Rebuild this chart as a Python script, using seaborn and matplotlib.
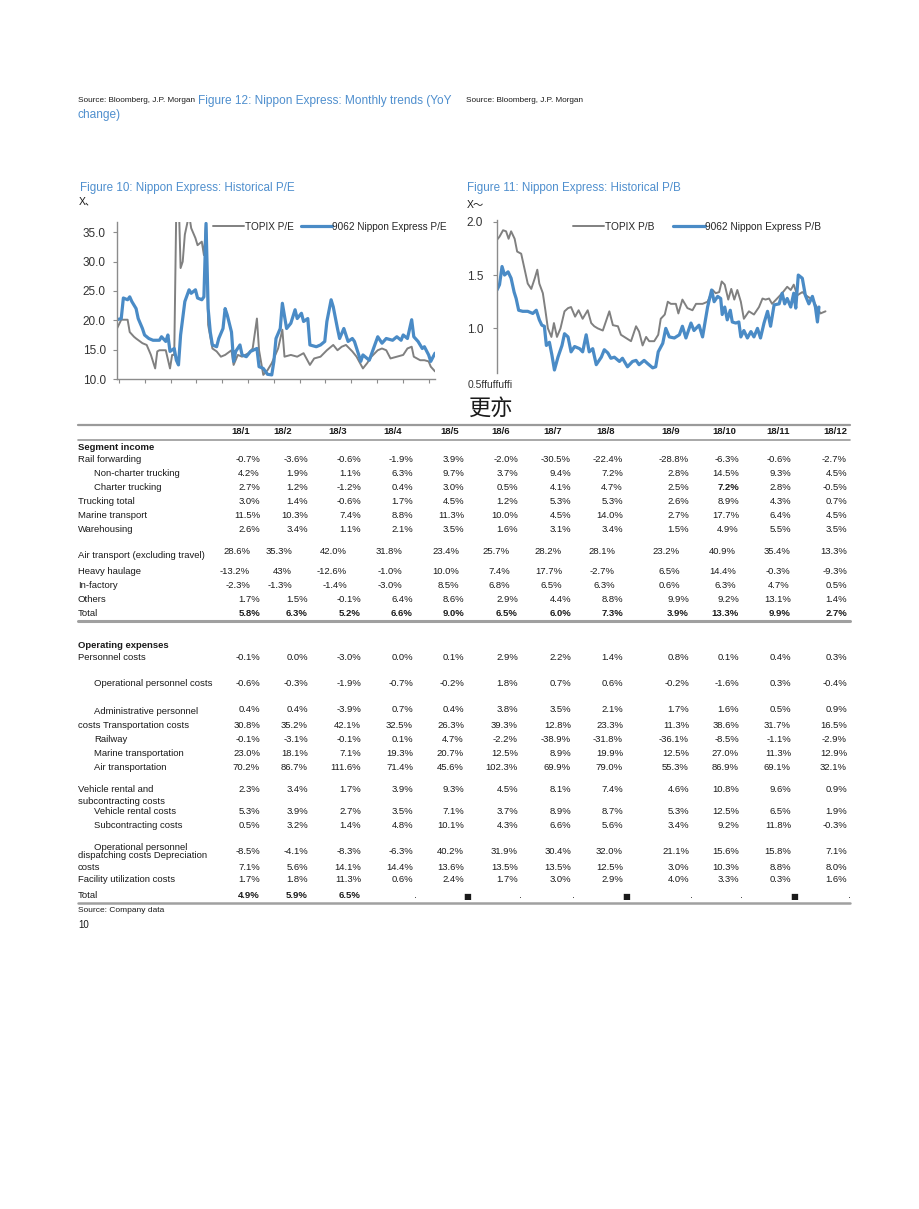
import numpy as np
import pandas as pd
import matplotlib
matplotlib.use('Agg')
import matplotlib.pyplot as plt
import seaborn as sns

# ---------------- data: historical P/E (month index) ----------------
pe_topix_m = [0, 2, 5, 6, 8, 9, 12, 14, 16, 18, 19, 20, 23, 25, 26, 27, 28, 29, 30, 31,
              32, 34, 35, 37, 38, 40, 41, 42, 43, 45, 47, 49, 51, 54, 55, 57, 59, 62, 64, 66,
              67, 69, 71, 73, 76, 78, 79, 82, 85, 88, 91, 93, 96, 99, 102, 104, 106, 108, 111, 113,
              116, 118, 120, 123, 125, 127, 129, 132, 135, 137, 139, 140, 143, 145, 147, 148, 150]
pe_topix = [18.6, 20.1, 20.1, 18.0, 17.2, 16.9, 16.1, 15.8, 14.1, 11.8, 14.7, 14.9, 14.9, 11.8, 14.1, 14.1, 40.0, 42.0, 28.9, 30.0,
            34.6, 38.0, 35.7, 34.0, 32.8, 33.4, 31.1, 36.5, 19.2, 15.2, 14.7, 13.8, 14.1, 14.9, 12.4, 14.1, 13.8, 14.4, 15.2, 20.3,
            14.9, 10.7, 11.5, 12.7, 15.2, 18.4, 13.8, 14.1, 13.8, 14.4, 12.4, 13.5, 13.8, 14.9, 15.8, 14.9, 15.5, 15.8, 14.7, 13.8,
            11.8, 12.7, 13.8, 14.9, 15.2, 14.9, 13.5, 13.8, 14.1, 15.2, 15.5, 13.8, 13.2, 13.2, 13.0, 12.1, 11.3]

pe_nx_m = [0, 2, 3, 5, 6, 7, 9, 10, 12, 13, 15, 17, 20, 21, 23, 24, 25, 27, 28, 29,
           30, 32, 34, 35, 37, 38, 40, 41, 42, 43, 44, 45, 47, 48, 50, 51, 52, 54, 55, 56,
           58, 59, 61, 63, 66, 67, 69, 71, 73, 74, 75, 77, 78, 80, 82, 84, 85, 87, 88, 90,
           91, 94, 96, 98, 99, 101, 102, 104, 105, 107, 109, 111, 112, 115, 116, 119, 121, 123, 125, 127,
           130, 132, 134, 135, 137, 139, 140, 142, 144, 145, 147, 148, 150]
pe_nx = [20.1, 20.3, 23.8, 23.5, 24.0, 23.2, 22.0, 20.3, 18.6, 17.5, 16.9, 16.6, 16.6, 17.2, 16.4, 17.5, 14.7, 15.2, 13.2, 12.4,
         17.5, 23.2, 25.2, 24.6, 25.2, 23.8, 23.5, 24.0, 36.5, 22.0, 18.0, 15.8, 15.5, 16.9, 18.6, 22.0, 20.9, 18.0, 13.0, 14.7,
         15.8, 14.1, 13.8, 14.7, 15.2, 12.1, 11.8, 10.8, 10.7, 13.0, 16.9, 18.6, 22.9, 18.6, 19.5, 21.8, 20.3, 21.2, 19.8, 20.3,
         15.8, 15.5, 15.8, 16.4, 19.8, 23.5, 22.3, 18.6, 16.9, 18.6, 16.4, 16.9, 16.4, 13.0, 14.1, 13.2, 15.2, 17.2, 16.1, 16.9,
         16.6, 17.2, 16.6, 17.5, 16.9, 20.1, 17.2, 16.4, 15.2, 15.5, 14.1, 13.0, 14.4]

# ---------------- data: historical P/B (week index) ----------------
pb_topix_w = [0, 5, 12, 18, 23, 28, 35, 40, 48, 55, 61, 68, 75, 80, 84, 91, 96, 101, 108, 113,
              119, 126, 134, 141, 147, 155, 162, 170, 180, 187, 193, 200, 210, 223, 230, 240, 246, 256, 266, 276,
              282, 289, 296, 302, 312, 320, 325, 333, 339, 345, 355, 360, 368, 378, 388, 395, 408, 418, 428, 434,
              441, 446, 452, 459, 465, 471, 477, 484, 490, 500, 510, 520, 527, 533, 540, 546, 556, 566, 576, 583,
              589, 596, 606, 616, 626, 636, 642, 652]
pb_topix = [1.83, 1.86, 1.92, 1.91, 1.84, 1.91, 1.84, 1.72, 1.70, 1.55, 1.42, 1.37, 1.47, 1.55, 1.42, 1.33, 1.17, 1.00, 0.92, 1.05,
            0.92, 1.00, 1.16, 1.19, 1.20, 1.11, 1.17, 1.09, 1.17, 1.05, 1.02, 1.00, 0.98, 1.16, 1.03, 1.02, 0.94, 0.91, 0.88, 1.02,
            0.97, 0.84, 0.92, 0.88, 0.88, 0.94, 1.09, 1.13, 1.25, 1.23, 1.23, 1.14, 1.27, 1.19, 1.17, 1.23, 1.23, 1.25, 1.36, 1.33,
            1.34, 1.44, 1.41, 1.27, 1.37, 1.27, 1.36, 1.25, 1.09, 1.16, 1.13, 1.20, 1.28, 1.27, 1.28, 1.23, 1.28, 1.33, 1.39, 1.36,
            1.41, 1.31, 1.34, 1.30, 1.27, 1.19, 1.14, 1.16]

pb_nx_w = [0, 5, 10, 15, 22, 28, 34, 38, 43, 51, 61, 71, 78, 84, 89, 94, 98, 104, 109, 114,
           121, 129, 134, 141, 147, 154, 164, 170, 177, 183, 190, 197, 207, 213, 220, 226, 233, 243, 249, 259,
           269, 276, 282, 292, 299, 309, 315, 320, 329, 335, 342, 352, 362, 368, 375, 385, 391, 401, 408, 418,
           426, 431, 438, 444, 447, 452, 457, 463, 467, 474, 480, 484, 490, 497, 504, 510, 517, 523, 530, 537,
           543, 550, 560, 566, 571, 576, 583, 589, 593, 598, 606, 612, 619, 626, 632, 636, 639]
pb_nx = [1.36, 1.41, 1.58, 1.50, 1.53, 1.47, 1.34, 1.28, 1.17, 1.16, 1.16, 1.14, 1.17, 1.08, 1.03, 1.02, 0.84, 0.87, 0.75, 0.61,
         0.73, 0.84, 0.95, 0.92, 0.78, 0.83, 0.81, 0.78, 0.94, 0.78, 0.81, 0.66, 0.73, 0.80, 0.77, 0.72, 0.73, 0.69, 0.72, 0.64,
         0.69, 0.70, 0.66, 0.70, 0.67, 0.63, 0.64, 0.78, 0.86, 1.00, 0.92, 0.91, 0.94, 1.02, 0.91, 1.05, 0.98, 1.03, 0.92, 1.20,
         1.36, 1.25, 1.30, 1.28, 1.13, 1.20, 1.08, 1.17, 1.06, 1.05, 1.06, 0.92, 0.98, 0.91, 0.97, 0.92, 1.00, 0.91, 1.05, 1.16,
         1.02, 1.22, 1.23, 1.33, 1.23, 1.28, 1.20, 1.33, 1.19, 1.50, 1.47, 1.31, 1.23, 1.30, 1.20, 1.06, 1.20]

# ---------------- data: monthly YoY table ----------------
months = ["18/1", "18/2", "18/3", "18/4", "18/5", "18/6", "18/7", "18/8", "18/9", "18/10", "18/11", "18/12"]

seg_labels = ["Rail forwarding", "Non-charter trucking", "Charter trucking", "Trucking total",
              "Marine transport", "Warehousing", "Air transport (excluding travel)", "Heavy haulage",
              "In-factory", "Others", "Total"]
seg_values = [
    ["-0.7%", "-3.6%", "-0.6%", "-1.9%", "3.9%", "-2.0%", "-30.5%", "-22.4%", "-28.8%", "-6.3%", "-0.6%", "-2.7%"],
    ["4.2%", "1.9%", "1.1%", "6.3%", "9.7%", "3.7%", "9.4%", "7.2%", "2.8%", "14.5%", "9.3%", "4.5%"],
    ["2.7%", "1.2%", "-1.2%", "0.4%", "3.0%", "0.5%", "4.1%", "4.7%", "2.5%", "7.2%", "2.8%", "-0.5%"],
    ["3.0%", "1.4%", "-0.6%", "1.7%", "4.5%", "1.2%", "5.3%", "5.3%", "2.6%", "8.9%", "4.3%", "0.7%"],
    ["11.5%", "10.3%", "7.4%", "8.8%", "11.3%", "10.0%", "4.5%", "14.0%", "2.7%", "17.7%", "6.4%", "4.5%"],
    ["2.6%", "3.4%", "1.1%", "2.1%", "3.5%", "1.6%", "3.1%", "3.4%", "1.5%", "4.9%", "5.5%", "3.5%"],
    ["28.6%", "35.3%", "42.0%", "31.8%", "23.4%", "25.7%", "28.2%", "28.1%", "23.2%", "40.9%", "35.4%", "13.3%"],
    ["-13.2%", "43%", "-12.6%", "-1.0%", "10.0%", "7.4%", "17.7%", "-2.7%", "6.5%", "14.4%", "-0.3%", "-9.3%"],
    ["-2.3%", "-1.3%", "-1.4%", "-3.0%", "8.5%", "6.8%", "6.5%", "6.3%", "0.6%", "6.3%", "4.7%", "0.5%"],
    ["1.7%", "1.5%", "-0.1%", "6.4%", "8.6%", "2.9%", "4.4%", "8.8%", "9.9%", "9.2%", "13.1%", "1.4%"],
    ["5.8%", "6.3%", "5.2%", "6.6%", "9.0%", "6.5%", "6.0%", "7.3%", "3.9%", "13.3%", "9.9%", "2.7%"],
]

opex_labels = ["Personnel costs", "Operational personnel costs", "Administrative personnel",
               "costs Transportation costs", "Railway", "Marine transportation", "Air transportation",
               "Vehicle rental and", "Vehicle rental costs", "Subcontracting costs",
               "Operational personnel", "costs", "Facility utilization costs", "Total"]
opex_values = [
    ["-0.1%", "0.0%", "-3.0%", "0.0%", "0.1%", "2.9%", "2.2%", "1.4%", "0.8%", "0.1%", "0.4%", "0.3%"],
    ["-0.6%", "-0.3%", "-1.9%", "-0.7%", "-0.2%", "1.8%", "0.7%", "0.6%", "-0.2%", "-1.6%", "0.3%", "-0.4%"],
    ["0.4%", "0.4%", "-3.9%", "0.7%", "0.4%", "3.8%", "3.5%", "2.1%", "1.7%", "1.6%", "0.5%", "0.9%"],
    ["30.8%", "35.2%", "42.1%", "32.5%", "26.3%", "39.3%", "12.8%", "23.3%", "11.3%", "38.6%", "31.7%", "16.5%"],
    ["-0.1%", "-3.1%", "-0.1%", "0.1%", "4.7%", "-2.2%", "-38.9%", "-31.8%", "-36.1%", "-8.5%", "-1.1%", "-2.9%"],
    ["23.0%", "18.1%", "7.1%", "19.3%", "20.7%", "12.5%", "8.9%", "19.9%", "12.5%", "27.0%", "11.3%", "12.9%"],
    ["70.2%", "86.7%", "111.6%", "71.4%", "45.6%", "102.3%", "69.9%", "79.0%", "55.3%", "86.9%", "69.1%", "32.1%"],
    ["2.3%", "3.4%", "1.7%", "3.9%", "9.3%", "4.5%", "8.1%", "7.4%", "4.6%", "10.8%", "9.6%", "0.9%"],
    ["5.3%", "3.9%", "2.7%", "3.5%", "7.1%", "3.7%", "8.9%", "8.7%", "5.3%", "12.5%", "6.5%", "1.9%"],
    ["0.5%", "3.2%", "1.4%", "4.8%", "10.1%", "4.3%", "6.6%", "5.6%", "3.4%", "9.2%", "11.8%", "-0.3%"],
    ["-8.5%", "-4.1%", "-8.3%", "-6.3%", "40.2%", "31.9%", "30.4%", "32.0%", "21.1%", "15.6%", "15.8%", "7.1%"],
    ["7.1%", "5.6%", "14.1%", "14.4%", "13.6%", "13.5%", "13.5%", "12.5%", "3.0%", "10.3%", "8.8%", "8.0%"],
    ["1.7%", "1.8%", "11.3%", "0.6%", "2.4%", "1.7%", "3.0%", "2.9%", "4.0%", "3.3%", "0.3%", "1.6%"],
    ["4.9%", "5.9%", "6.5%", ".", "\u25a0", ".", ".", "\u25a0", ".", ".", "\u25a0", "."],
]

# ---------------- layout (pixels) ----------------
W, H = 920, 1209
BLUE_T = '#4F8FCE'
BLUE_L = '#4A8BC6'
GRAY_L = '#808080'
TXT = '#1a1a1a'

sns.set_theme(style='white')
plt.rcParams['font.family'] = ['Liberation Sans', 'Noto Sans CJK SC', 'DejaVu Sans']
TF = ['Liberation Sans', 'DejaVu Sans']


def box(x0, y0, x1, y1):
    return [x0 / W, 1 - y1 / H, (x1 - x0) / W, (y1 - y0) / H]


fig = plt.figure(figsize=(W / 100, H / 100), dpi=100)
fig.patch.set_facecolor('white')

bg = fig.add_axes([0, 0, 1, 1])
bg.set_xlim(0, W)
bg.set_ylim(H, 0)
bg.axis('off')

# header texts
bg.text(78, 101, "Source: Bloomberg, J.P. Morgan", fontsize=5.9, family=TF, color=TXT, va='center')
bg.text(198, 101, "Figure 12: Nippon Express: Monthly trends (YoY", fontsize=8.6, color=BLUE_T, va='center')
bg.text(78, 115, "change)", fontsize=8.6, color=BLUE_T, va='center')
bg.text(466, 101, "Source: Bloomberg, J.P. Morgan", fontsize=5.9, family=TF, color=TXT, va='center')

bg.text(80, 188, "Figure 10: Nippon Express: Historical P/E", fontsize=8.4, color=BLUE_T, va='center')
bg.text(79, 201, "X\u3001", fontsize=7.5, color=TXT, va='center')
bg.text(467, 188, "Figure 11: Nippon Express: Historical P/B", fontsize=8.4, color=BLUE_T, va='center')
bg.text(467, 205, "X\u301c", fontsize=7.5, color=TXT, va='center')
bg.text(468, 385, "0.5ffuffuffi", fontsize=7.5, color='#333333', va='center')

# ---------------- P/E chart ----------------
ax1 = fig.add_axes(box(117, 221.7, 435, 379))
sns.lineplot(x=pe_topix_m, y=pe_topix, ax=ax1, color=GRAY_L, linewidth=1.4, label='TOPIX P/E')
sns.lineplot(x=pe_nx_m, y=pe_nx, ax=ax1, color=BLUE_L, linewidth=2.3, label='9062 Nippon Express P/E')
ax1.set_xlim(0, 150)
ax1.set_ylim(10, 36.8)
ax1.set_yticks([10, 15, 20, 25, 30, 35])
ax1.set_yticklabels([f"{v:.1f}" for v in [10, 15, 20, 25, 30, 35]])
ax1.set_xticks(np.linspace(1, 147, 13))
ax1.set_xticklabels([])

# ---------------- P/B chart ----------------
ax2 = fig.add_axes(box(497, 220, 827, 373.3))
sns.lineplot(x=pb_topix_w, y=pb_topix, ax=ax2, color=GRAY_L, linewidth=1.4, label='TOPIX P/B')
sns.lineplot(x=pb_nx_w, y=pb_nx, ax=ax2, color=BLUE_L, linewidth=2.3, label='9062 Nippon Express P/B')
ax2.set_xlim(0, 655)
ax2.set_ylim(0.579, 2.016)
ax2.set_yticks([1.0, 1.5, 2.0])
ax2.set_yticklabels(["1.0", "1.5", "2.0"])
ax2.set_xticks([])

for ax in (ax1, ax2):
    ax.set_facecolor('none')
    ax.set_xlabel('')
    ax.set_ylabel('')
    for s in ('top', 'right'):
        ax.spines[s].set_visible(False)
    for s in ('left', 'bottom'):
        ax.spines[s].set_color('#8c8c8c')
        ax.spines[s].set_linewidth(1.0)
    ax.tick_params(axis='y', length=3, width=0.8, color='#8c8c8c', labelsize=8.5,
                   labelcolor='#333333', pad=5, left=True)
    ax.tick_params(axis='x', length=3, width=0.8, color='#8c8c8c', bottom=True, direction='out')

ax2.spines['bottom'].set_visible(False)
ax2.tick_params(axis='y', pad=7)

ax1.legend(loc='center right', bbox_to_anchor=(1.05, 0.968), ncol=2, frameon=False,
           handlelength=3.1, handletextpad=0.05, columnspacing=0.7, fontsize=7.2, borderaxespad=0)
ax2.legend(loc='center right', bbox_to_anchor=(0.995, 0.956), ncol=2, frameon=False,
           handlelength=3.1, handletextpad=0.05, columnspacing=1.9, fontsize=7.3, borderaxespad=0)

# Chinese heading
bg.text(491, 408, "\u66f4\u4ea6", fontsize=16, family=['Noto Sans CJK SC'], color=TXT,
        ha='center', va='center', fontweight='light')

# ---------------- table ----------------
col_d = [260, 308, 361, 413, 464, 518, 571, 623, 689, 739, 791, 847]
col_h = [250, 292, 347, 402, 459, 510, 562, 615, 680, 736, 790, 847]
FS = 6.8
LX, IX = 78, 94

bg.plot([78, 850], [425, 425], color='#9a9a9a', lw=1.6)
bg.plot([78, 850], [440, 440], color='#9a9a9a', lw=1.2)
bg.plot([78, 850], [621, 621], color='#a0a0a0', lw=2.2)
bg.plot([78, 850], [903, 903], color='#a0a0a0', lw=1.8)

for x, m in zip(col_h, months):
    bg.text(x, 432, m, fontsize=FS, family=TF, fontweight='bold', color=TXT, ha='right', va='center')

bg.text(LX, 447, "Segment income", fontsize=FS, family=TF, fontweight='bold', color=TXT, va='center')
bg.text(LX, 645, "Operating expenses", fontsize=FS, family=TF, fontweight='bold', color=TXT, va='center')

# (label y, value y, indent, alignment)
seg_rows = [(460, 460, 0, 'd'), (473, 473, 1, 'd'), (487, 487, 1, 'd'), (501, 501, 0, 'd'),
            (515, 515, 0, 'd'), (530, 530, 0, 'd'), (555, 551, 0, 'h'), (572, 572, 0, 'h'),
            (585, 585, 0, 'h'), (599, 599, 0, 'd'), (613, 613, 0, 'd')]
opex_rows = [(658, 658, 0, 'd'), (684, 684, 1, 'd'), (712, 709, 1, 'd'), (726, 726, 0, 'd'),
             (740, 740, 1, 'd'), (754, 754, 1, 'd'), (768, 768, 1, 'd'), (790, 790, 0, 'd'),
             (812, 812, 1, 'd'), (825, 825, 1, 'd'), (847, 851, 1, 'd'), (867, 867, 0, 'd'),
             (880, 880, 0, 'd'), (896, 896, 0, 'd')]


def draw_rows(labels, values, rows):
    for lab, vals, (ly, vy, ind, al) in zip(labels, values, rows):
        bg.text(IX if ind else LX, ly, lab, fontsize=FS, family=TF, color=TXT, va='center')
        cols = col_d if al == 'd' else col_h
        is_total = lab == "Total"
        for j, (x, v) in enumerate(zip(cols, vals)):
            bold = is_total and v.endswith('%')
            if v in ('.', '\u25a0'):
                bg.text(x + 3, vy, v, fontsize=6 if v != '.' else FS, family=['DejaVu Sans'],
                        color=TXT, ha='center', va='center')
                continue
            if lab == "Charter trucking" and months[j] == "18/10":
                bold = True
            bg.text(x, vy, v, fontsize=FS, family=TF, color=TXT, ha='right', va='center',
                    fontweight='bold' if bold else 'normal')


draw_rows(seg_labels, seg_values, seg_rows)
draw_rows(opex_labels, opex_values, opex_rows)

bg.text(LX, 802, "subcontracting costs", fontsize=FS, family=TF, color=TXT, va='center')
bg.text(LX, 856, "dispatching costs Depreciation", fontsize=FS, family=TF, color=TXT, va='center')

bg.text(LX, 911, "Source: Company data", fontsize=6.0, family=TF, color=TXT, va='center')
bg.text(LX, 925, "10", fontsize=7.0, family=TF, color=TXT, va='center')

fig.savefig('out.png', dpi=100, facecolor='white')
